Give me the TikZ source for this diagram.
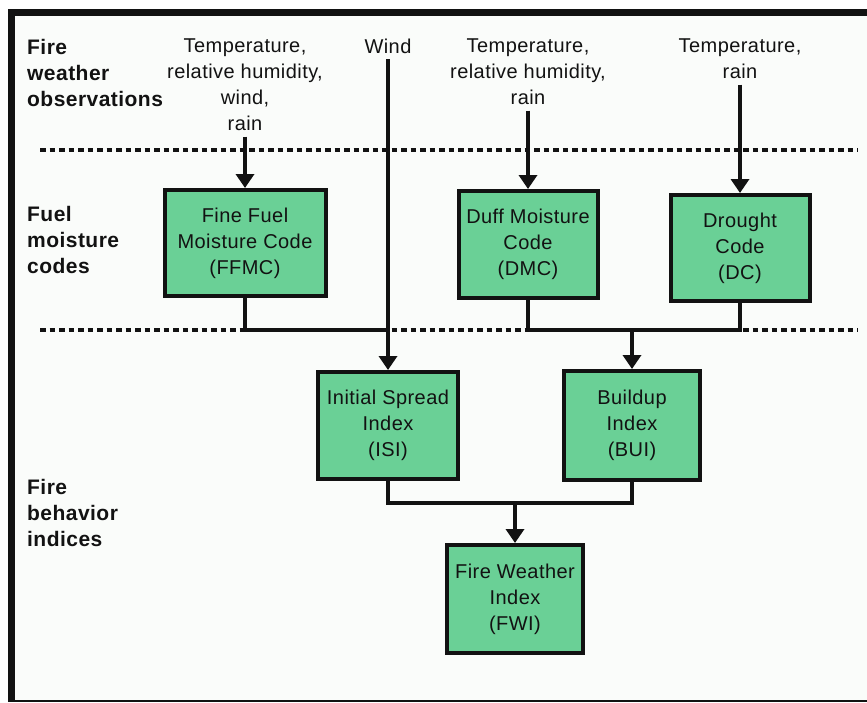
\documentclass[tikz,border=0pt]{standalone}
\usepackage{fontspec}
\setmainfont[LetterSpace=2.2]{Liberation Sans}
\usetikzlibrary{arrows.meta}
\definecolor{boxgreen}{RGB}{106,208,150}
\definecolor{ink}{RGB}{18,18,18}
\definecolor{paper}{RGB}{250,252,250}
\begin{document}
\begin{tikzpicture}[x=1pt,y=-1pt,
  every node/.style={text=ink},
  codebox/.style={draw=ink, line width=4pt, fill=boxgreen, align=center,
    inner sep=0pt, font=\fontsize{20}{26}\selectfont},
  obs/.style={align=center, inner sep=0pt, outer ysep=6pt, anchor=north,
    font=\fontsize{20}{26}\selectfont},
  tier/.style={align=left, inner sep=0pt, anchor=north west,
    font=\fontsize{21}{26}\selectfont\bfseries},
  wire/.style={draw=ink, line width=4pt},
  arr/.style={wire, -{Triangle[length=14pt,width=18pt]}},
  divider/.style={draw=ink, line width=4pt, dash pattern=on 5.5pt off 4pt},
]
% canvas and frame
\useasboundingbox (0,0) rectangle (867,702);
\fill[white] (0,0) rectangle (867,702);
\fill[paper] (15,16) rectangle (867,699.5);
\fill[ink] (8,9) rectangle (867,16);
\fill[ink] (8,9) rectangle (15,702);
\fill[ink] (8,699.5) rectangle (867,702);

% tier labels
\node[tier] (tobs) at (27,39) {Fire\\weather\\observations};
\node[tier] (tfuel) at (27,206) {Fuel\\moisture\\codes};
\node[tier] (tidx) at (27,479) {Fire\\behavior\\indices};

% tier dividers
\draw[divider] (40,150) -- (858,150);
\draw[divider] (40,330) -- (858,330);

% code and index boxes
\node[codebox, minimum width=161pt, minimum height=106pt] (ffmc) at (245,243)
  {Fine Fuel\\Moisture Code\\(FFMC)};
\node[codebox, minimum width=139pt, minimum height=107pt] (dmc) at (528,244.5)
  {Duff Moisture\\Code\\(DMC)};
\node[codebox, minimum width=139pt, minimum height=106pt] (dc) at (740,248)
  {Drought\\Code\\(DC)};
\node[codebox, minimum width=140pt, minimum height=107pt] (isi) at (388,425.5)
  {Initial Spread\\Index\\(ISI)};
\node[codebox, minimum width=136pt, minimum height=109pt] (bui) at (632,425.5)
  {Buildup\\Index\\(BUI)};
\node[codebox, minimum width=136pt, minimum height=108pt] (fwi) at (515,599)
  {Fire Weather\\Index\\(FWI)};

% weather observations
\node[obs] (ffmcin) at (245,32.7) {Temperature,\\relative humidity,\\wind,\\rain};
\node[obs] (windin) at (388,32.7) {Wind};
\node[obs] (dmcin) at (528,32.7) {Temperature,\\relative humidity,\\rain};
\node[obs] (dcin) at (740,32.7) {Temperature,\\rain};

\coordinate (midrow) at (0,330);
\coordinate (lowrow) at (0,503);

% connectors
\draw[arr] (ffmcin.south) -- (ffmc.north);
\draw[arr] (dmcin.south) -- (dmc.north);
\draw[arr] (dcin.south) -- (dc.north);
\draw[arr] (windin.south) -- (isi.north);
\draw[wire] (ffmc.south) |- (isi.north |- midrow);
\draw[wire] (dmc.south) |- (bui.north |- midrow) -| (dc.south);
\draw[arr] (bui.north |- midrow) -- (bui.north);
\draw[wire] (isi.south) |- (fwi.north |- lowrow) -| (bui.south);
\draw[arr] (fwi.north |- lowrow) -- (fwi.north);
\end{tikzpicture}
\end{document}
